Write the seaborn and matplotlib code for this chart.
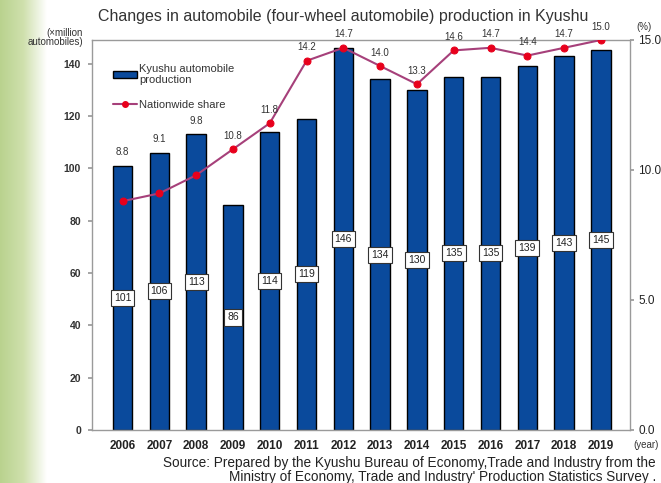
import numpy as np
import pandas as pd
import seaborn as sns
import matplotlib.pyplot as plt
from matplotlib.patches import Patch
from matplotlib.lines import Line2D
from matplotlib.colors import LinearSegmentedColormap

years = ['2006', '2007', '2008', '2009', '2010', '2011', '2012',
         '2013', '2014', '2015', '2016', '2017', '2018', '2019']
production = [101, 106, 113, 86, 114, 119, 146, 134, 130, 135, 135, 139, 143, 145]
share = [8.8, 9.1, 9.8, 10.8, 11.8, 14.2, 14.7, 14.0, 13.3, 14.6, 14.7, 14.4, 14.7, 15.0]
left_ticks = [0, 20, 40, 60, 80, 100, 120, 140]
right_ticks = [0.0, 5.0, 10.0, 15.0]

bar_color = '#0a4a9c'
line_color = '#a6407a'
marker_color = '#e8001c'
grey = '#9a9a9a'

sns.set_theme(style='white')
plt.rcParams['font.family'] = ['Liberation Sans', 'DejaVu Sans']

df = pd.DataFrame({'year': years, 'production': production, 'share': share})

fig = plt.figure(figsize=(6.61, 4.83), dpi=100)

# green fade strip on the left edge
bg = fig.add_axes([0, 0, 0.07, 1], zorder=-10)
grad = np.linspace(0, 1, 256).reshape(1, -1)
cmap = LinearSegmentedColormap.from_list('fade', ['#b9d28e', '#cfe0ad', '#ffffff'])
bg.imshow(grad, aspect='auto', cmap=cmap, extent=[0, 1, 0, 1])
bg.axis('off')

ax = fig.add_axes([92 / 661, 1 - 430 / 483, (630 - 92) / 661, (430 - 40) / 483])
sns.barplot(data=df, x='year', y='production', color=bar_color, edgecolor='black',
            linewidth=1.0, width=0.53, saturation=1, ax=ax)
ax.set_ylim(0, 149)
ax.set_xlim(-0.83, 13.79)
ax.set_yticks(left_ticks)
ax.set_xlabel('')
ax.set_ylabel('')
ax.tick_params(axis='y', labelsize=7.5, colors='#333333', length=3, direction='out',
               left=True, color=grey, pad=5)
ax.tick_params(axis='x', labelsize=8.5, length=0, pad=7)
for lab in ax.get_xticklabels():
    lab.set_fontweight('bold')
    lab.set_color('#222222')
for lab in ax.get_yticklabels():
    lab.set_fontweight('bold')
for s in ax.spines.values():
    s.set_color(grey)
    s.set_linewidth(1.0)

# value boxes in the middle of each bar
for i, v in enumerate(production):
    ax.text(i, v / 2, str(v), ha='center', va='center', fontsize=7.5, color='#222222',
            bbox=dict(boxstyle='square,pad=0.3', fc='white', ec='#333333', lw=0.8), zorder=5)

ax2 = ax.twinx()
sns.lineplot(x=np.arange(len(years)), y=share, color=line_color, linewidth=1.5,
             marker='o', markersize=5, markerfacecolor=marker_color,
             markeredgecolor=marker_color, ax=ax2)
ax2.set_ylim(0, 15)
ax2.set_yticks(right_ticks)
ax2.set_yticklabels([f'{t:.1f}' for t in right_ticks])
ax2.tick_params(axis='y', labelsize=8.5, colors='#222222', length=3, direction='out',
                right=True, color=grey, pad=3)
for s in ax2.spines.values():
    s.set_visible(False)

# share labels above the higher of bar top and point
for i, (p, s) in enumerate(zip(production, share)):
    top = max(s, p * 15 / 149)
    ax2.annotate(f'{s:.1f}', (i, top), xytext=(0, 6), textcoords='offset points',
                 ha='center', va='bottom', fontsize=7, color='#333333')

handles = [Patch(facecolor=bar_color, edgecolor='black', linewidth=1.0),
           Line2D([], [], color=line_color, lw=1.5, marker='o', markersize=4,
                  markerfacecolor=marker_color, markeredgecolor=marker_color)]
ax2.legend(handles, ['Kyushu automobile\nproduction', 'Nationwide share'],
           loc='upper left', bbox_to_anchor=(0.02, 0.965), frameon=False,
           fontsize=8, handlelength=2.2, handleheight=0.6, handletextpad=0.15,
           labelspacing=1.3, labelcolor='#333333')

fig.text(343 / 661, 1 - 17 / 483,
         'Changes in automobile (four-wheel automobile) production in Kyushu',
         ha='center', va='center', fontsize=11.5, color='#333333')
fig.text(83 / 661, 1 - 28 / 483, '(\u00d7million\nautomobiles)', ha='right', va='top',
         fontsize=7, color='#333333', linespacing=0.85)
fig.text(636 / 661, 1 - 27 / 483, '(%)', ha='left', va='center', fontsize=7, color='#333333')
fig.text(633 / 661, 1 - 445 / 483, '(year)', ha='left', va='center', fontsize=7, color='#333333')
fig.text(656 / 661, 1 - 470 / 483,
         'Source: Prepared by the Kyushu Bureau of Economy,Trade and Industry from the\n'
         "Ministry of Economy, Trade and Industry' Production Statistics Survey .",
         ha='right', va='center', fontsize=9.8, color='#222222', linespacing=0.95,
         multialignment='right')

fig.savefig('out.png', dpi=100)
